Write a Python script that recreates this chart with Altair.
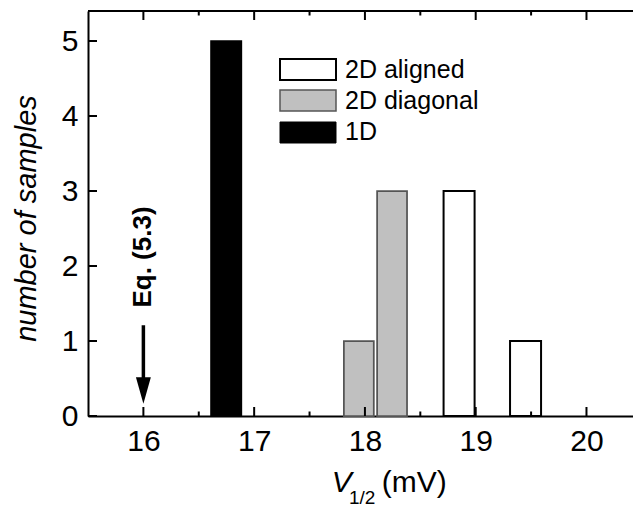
import altair as alt
import pandas as pd

# ---- data ----
series = ["1D", "2D diagonal", "2D diagonal", "2D aligned", "2D aligned"]
bin_left = [16.61, 17.81, 18.11, 18.71, 19.31]
bin_right = [16.885, 18.08, 18.38, 18.99, 19.59]
counts = [5, 1, 3, 3, 1]

legend_labels = ["2D aligned", "2D diagonal", "1D"]
legend_fills = ["white", "#c0c0c0", "black"]
legend_strokes = ["black", "#555555", "black"]
legend_widths = [2, 1.5, 1]

x_major = [16, 17, 18, 19, 20]
x_minor = [16.5, 17.5, 18.5, 19.5]
y_major = [0, 1, 2, 3, 4, 5]

eq_label = ["Eq. (5.3)"]
eq_x = [16]
eq_text_y = [2.12]
arrow_top = [1.21]
arrow_end = [0.45]
arrow_head_y = [0.34]

FONT = "Liberation Sans"
W, H = 545, 405

bars = pd.DataFrame({"series": series, "left": bin_left, "right": bin_right, "count": counts})
xs = alt.Scale(domain=[15.5, 20.42], nice=False, zero=False)
ys = alt.Scale(domain=[0, 5.4], nice=False, zero=False)

xaxis = alt.Axis(values=x_major, ticks=False, grid=False, title=None, labelFont=FONT,
                 labelFontSize=30, labelColor="black", labelPadding=10, labelFlush=False,
                 domainColor="black", domainWidth=2, format="d")
yaxis = alt.Axis(values=y_major, ticks=False, grid=False, title="number of samples",
                 labelFont=FONT, labelFontSize=30, labelColor="black", labelPadding=10,
                 domainColor="black", domainWidth=2, format="d",
                 titleFont=FONT, titleFontSize=29, titleFontStyle="italic",
                 titleFontWeight="normal", titleColor="black", titleAngle=270,
                 titleBaseline="alphabetic", titleAlign="center", titleX=-53, titleY=207)

fill_scale = alt.Scale(domain=legend_labels, range=legend_fills)
stroke_scale = alt.Scale(domain=legend_labels, range=legend_strokes)
sw_scale = alt.Scale(domain=legend_labels, range=legend_widths)

bar_layer = alt.Chart(bars).mark_rect().encode(
    x=alt.X("left:Q", scale=xs, axis=xaxis),
    x2="right:Q",
    y=alt.Y("count:Q", scale=ys, axis=yaxis),
    y2=alt.datum(0),
    fill=alt.Fill("series:N", scale=fill_scale, legend=None),
    stroke=alt.Stroke("series:N", scale=stroke_scale, legend=None),
    strokeWidth=alt.StrokeWidth("series:N", scale=sw_scale, legend=None),
)

xmaj = pd.DataFrame({"t": x_major})
xmin = pd.DataFrame({"t": x_minor})
ymaj = pd.DataFrame({"t": y_major})

def xticks(df, y1, y2):
    return alt.Chart(df).mark_rule(color="black", strokeWidth=2).encode(
        x=alt.X("t:Q", scale=xs, axis=xaxis), y=alt.value(y1), y2=alt.value(y2))

ticks = [
    xticks(xmaj, H, H - 9), xticks(xmin, H, H - 4.5),
    xticks(xmaj, 0, 9), xticks(xmin, 0, 4.5),
    alt.Chart(ymaj).mark_rule(color="black", strokeWidth=2).encode(
        y=alt.Y("t:Q", scale=ys, axis=yaxis), x=alt.value(0), x2=alt.value(9)),
]

top_border = alt.Chart(pd.DataFrame({"a": [0]})).mark_rule(color="black", strokeWidth=2).encode(
    x=alt.value(0), x2=alt.value(W), y=alt.value(0))

eq = pd.DataFrame({"label": eq_label, "x": eq_x, "ty": eq_text_y,
                   "a1": arrow_top, "a2": arrow_end, "ah": arrow_head_y})
arrow_line = alt.Chart(eq).mark_rule(color="black", strokeWidth=3.5).encode(
    x=alt.X("x:Q", scale=xs, axis=xaxis), y=alt.Y("a1:Q", scale=ys, axis=yaxis), y2="a2:Q")
arrow_head = alt.Chart(eq).mark_point(shape="M-0.56,-1L0.56,-1L0,1Z", size=708, filled=True,
                                      color="black", opacity=1, strokeWidth=0).encode(
    x=alt.X("x:Q", scale=xs, axis=xaxis), y=alt.Y("ah:Q", scale=ys, axis=yaxis))
eq_text = alt.Chart(eq).mark_text(angle=270, font=FONT, fontSize=26, fontWeight="bold",
                                  align="center", baseline="middle", color="black").encode(
    x=alt.X("x:Q", scale=xs, axis=xaxis), y=alt.Y("ty:Q", scale=ys, axis=yaxis), text="label:N")

# legend (manual)
leg_layers = []
box_tops = [48, 79, 111]
text_base = [67.3, 98.3, 129]
for i, lab in enumerate(legend_labels):
    d = pd.DataFrame({"label": [lab]})
    leg_layers.append(alt.Chart(d).mark_rect(fill=legend_fills[i], stroke=legend_strokes[i],
                                             strokeWidth=legend_widths[i]).encode(
        x=alt.value(192), x2=alt.value(248), y=alt.value(box_tops[i]), y2=alt.value(box_tops[i] + 21)))
    leg_layers.append(alt.Chart(d).mark_text(font=FONT, fontSize=25, align="left",
                                             baseline="alphabetic", color="black").encode(
        x=alt.value(257), y=alt.value(text_base[i]), text="label:N"))

# x axis title: V_{1/2} (mV)
def txt(s, x, y, size, style="normal"):
    return alt.Chart(pd.DataFrame({"s": [s]})).mark_text(
        font=FONT, fontSize=size, fontStyle=style, align="left", baseline="alphabetic",
        color="black").encode(x=alt.value(x), y=alt.value(y), text="s:N")

xtitle = [txt("V", 243.7, 480.7, 30, "italic"), txt("1/2", 261, 492.5, 19), txt("(mV)", 293.7, 480.7, 30)]

chart = alt.layer(bar_layer, *ticks, top_border, arrow_line, arrow_head, eq_text,
                  *leg_layers, *xtitle).properties(
    width=W, height=H,
    autosize=alt.AutoSizeParams(type="none"),
    padding={"left": 88, "top": 11, "right": 0, "bottom": 90},
    background="white",
).configure_view(stroke=None)

chart.save("out.html", embed_options={"renderer": "svg", "actions": False})
